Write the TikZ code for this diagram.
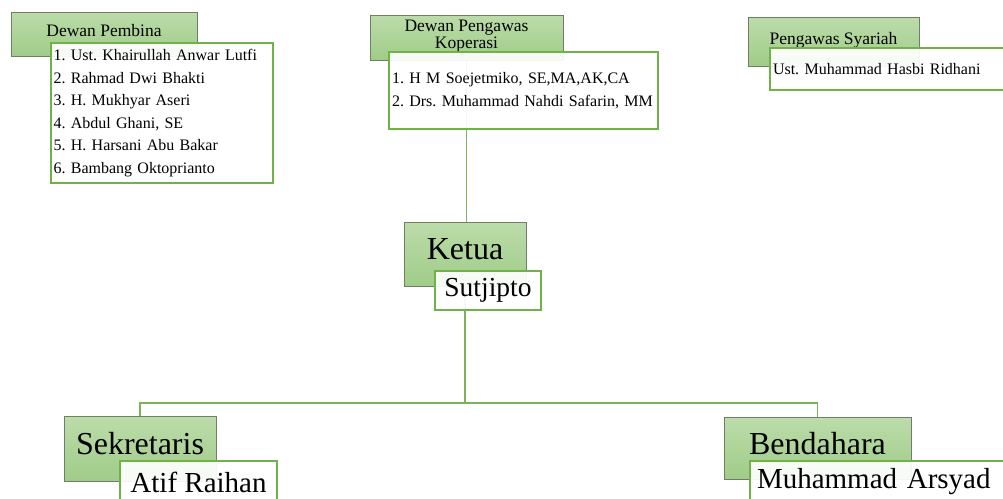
\documentclass[tikz,border=0pt]{standalone}
\usepackage{xcolor}
\usepackage{fontspec}
\setmainfont{Liberation Serif}
\usepackage{tikz}

\definecolor{headtop}{RGB}{188,220,170}
\definecolor{headbot}{RGB}{160,204,136}
\definecolor{headline}{RGB}{112,126,102}
\definecolor{listline}{RGB}{112,178,70}
\definecolor{linkgreen}{RGB}{124,178,92}

\begin{document}
\frenchspacing
\begin{tikzpicture}[x=1pt, y=-1pt]
        \tikzstyle{head}=[draw=headline, line width=0.8pt, top color=headtop, bottom color=headbot, inner sep=0pt, text depth=7pt, font=\fontsize{17.5}{17}\selectfont]
        \tikzstyle{bighead}=[head, text depth=10pt, font=\fontsize{32}{36}\selectfont]
        \tikzstyle{list}=[draw=listline, line width=1.3pt, fill=white, fill opacity=0.92, draw opacity=1, text opacity=1, align=left, inner xsep=2.5pt, inner ysep=0pt, font=\fontsize{16}{22.6}\selectfont\frenchspacing]
        \tikzstyle{namebox}=[draw=listline, line width=1.3pt, fill=white, fill opacity=0.92, draw opacity=1, text opacity=1, inner sep=0pt, font=\fontsize{29}{32}\selectfont]
        \tikzstyle{link}=[draw=linkgreen, line width=1.2pt]

        \path[use as bounding box] (0,0) rectangle (1003,498);
        \clip (0,0) rectangle (1003,498);

        % Draw the header boxes
        \node[head, minimum width=186pt, minimum height=44pt] (pembina) at (104,34) {Dewan Pembina};
        \node[head, align=center, minimum width=193pt, minimum height=45pt] (pengawas) at (466.5,37.5) {Dewan Pengawas\\Koperasi};
        \node[head, minimum width=171pt, minimum height=49pt] (syariah) at (833.5,41.5) {Pengawas Syariah};

        % Draw the officer boxes
        \node[bighead, minimum width=122pt, minimum height=64pt] (ketua) at (465,254) {Ketua};
        \node[bighead, minimum width=152pt, minimum height=65pt] (sekretaris) at (140,448.5) {Sekretaris};
        \node[bighead, minimum width=187pt, minimum height=62pt] (bendahara) at (817.5,448) {Bendahara};

        % Connect the boxes
        \coordinate (bus) at (465,403);
        \draw[link] (pengawas.south) -- (pengawas.south |- ketua.north);
        \draw[link] (ketua.south) -- (bus);
        \foreach \dest in {sekretaris,bendahara}
            \draw[link] (bus) -| (\dest.north);

        % Draw the member lists
        \node[list, text width=217pt, minimum height=140pt] (pembina-list) at (162,113) {1. Ust. Khairullah Anwar Lutfi\\2. Rahmad Dwi Bhakti\\3. H. Mukhyar Aseri\\4. Abdul Ghani, SE\\5. H. Harsani Abu Bakar\\6. Bambang Oktoprianto};
        \node[list, inner xsep=3pt, text width=263pt, minimum height=77pt] (pengawas-list) at (523.5,90.5) {1. H M Soejetmiko, SE,MA,AK,CA\\2. Drs. Muhammad Nahdi Safarin, MM};
        \node[list, inner xsep=3pt, text width=230pt, minimum height=42pt] (syariah-list) at (888,69) {Ust. Muhammad Hasbi Ridhani};

        % Draw the officer names
        \node[namebox, minimum width=106pt, minimum height=39pt, font=\fontsize{27.5}{30}\selectfont] (ketua-name) at (488,290.5) {Sutjipto};
        \node[namebox, minimum width=157pt, minimum height=42pt] (sekretaris-name) at (198.5,482) {Atif Raihan};
        \node[namebox, align=left, inner xsep=7pt, text width=242pt, minimum height=42pt] (bendahara-name) at (878,482) {Muhammad Arsyad};
    \end{tikzpicture}
\end{document}
